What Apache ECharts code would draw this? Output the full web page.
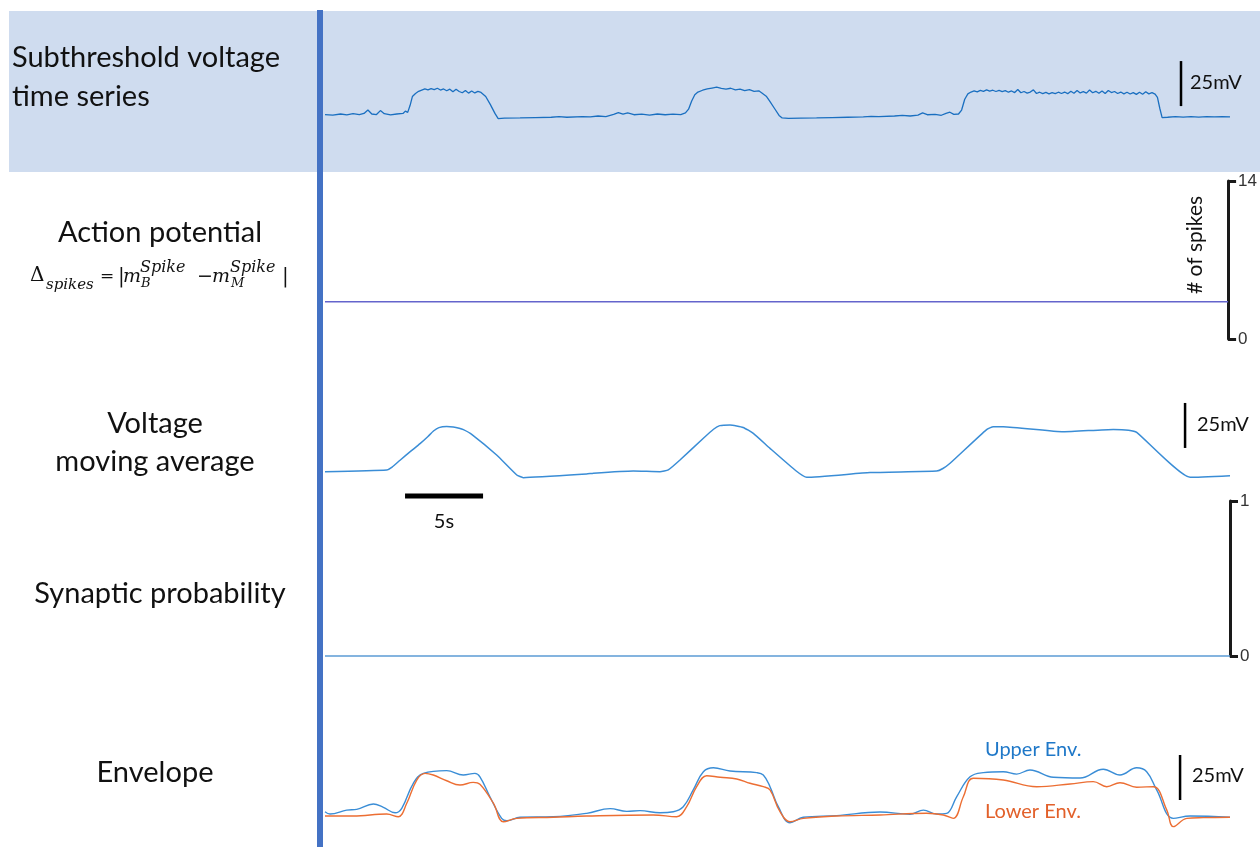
<!DOCTYPE html>
<html>
<head>
<meta charset="utf-8">
<script src="https://cdn.jsdelivr.net/npm/echarts@6/dist/echarts.min.js"></script>
<style>
  html, body { margin: 0; padding: 0; background: #fff; }
  #main { width: 1260px; height: 847px; }
</style>
</head>
<body>
<div id="main"></div>
<script>
// time in seconds, voltage in mV
var rawTime = [0,0.5,1.0,1.4,1.8,2.2,2.5,2.75,3.0,3.3,3.55,3.8,4.2,4.6,5.0,5.15,5.3,5.45,5.6,5.8,
  6.0,6.2,6.4,6.6,6.8,7.0,7.2,7.4,7.6,7.8,8.0,8.2,8.4,8.6,8.8,9.0,9.2,9.4,9.6,9.8,10.0,10.1,10.3,10.6,10.9,11.1,
  11.5,12.5,13.5,14.5,15.0,15.5,16.5,17.0,17.5,18.0,18.5,18.8,19.1,19.4,19.8,20.3,20.8,21.3,21.8,22.3,22.8,23.1,
  23.3,23.5,23.7,23.9,24.2,24.5,24.8,25.1,25.4,25.7,26.0,26.3,26.6,26.9,27.2,27.5,27.8,28.0,28.3,28.5,28.8,29.1,29.3,
  29.7,30.5,31.5,32.5,33.5,34.5,35.0,35.5,36.5,37.0,37.5,38.0,38.3,38.6,39.1,39.5,39.8,40.05,40.3,40.6,40.8,
  41.0,41.2,41.4,41.6,41.8,42.0,42.2,42.4,42.6,42.8,43.0,43.2,43.4,43.6,43.8,44.0,44.2,44.4,44.6,44.8,45.0,45.2,
  45.4,45.6,45.8,46.0,46.2,46.4,46.6,46.8,47.0,47.2,47.4,47.6,47.8,48.0,48.2,48.4,48.6,48.8,49.0,49.2,49.4,49.6,
  49.8,50.0,50.2,50.4,50.6,50.8,51.0,51.2,51.4,51.6,51.8,52.0,52.2,52.4,52.6,52.8,53.0,53.2,53.35,53.5,53.65,
  54.0,54.5,55.0,55.5,56.0,56.5,57.0,57.5,58.0];
var rawMv = [-67.5,-67.8,-67.2,-67.7,-67.0,-67.6,-66.9,-65.0,-67.2,-67.5,-65.3,-67.0,-67.7,-67.2,-66.9,-65.6,-66.3,-62.5,-57.5,-55.8,
  -54.6,-53.9,-53.2,-53.8,-53.1,-53.7,-52.9,-53.9,-53.3,-54.3,-53.4,-54.9,-53.5,-54.7,-55.4,-54.1,-55.6,-54.4,-55.5,-54.6,-55.2,-54.2,-57.5,-62.0,-67.0,-69.8,
  -69.5,-69.4,-69.2,-69.0,-68.7,-69.0,-68.6,-68.8,-68.3,-68.6,-67.4,-66.4,-67.3,-66.6,-67.6,-67.3,-67.8,-67.2,-67.6,-67.3,-67.5,-66.6,
  -64.5,-60.0,-56.5,-55.0,-54.0,-53.3,-52.8,-52.3,-53.0,-53.4,-52.9,-53.8,-53.4,-54.2,-53.7,-54.6,-54.3,-55.5,-57.5,-60.0,-64.0,-68.0,-69.4,
  -69.6,-69.5,-69.4,-69.2,-69.0,-68.8,-68.5,-68.7,-68.3,-68.0,-68.3,-67.8,-66.6,-67.6,-67.4,-67.9,-66.8,-66.2,-67.4,-67.2,-65.0,
  -59.0,-56.0,-55.0,-54.4,-54.9,-54.1,-54.6,-53.8,-54.5,-54.0,-54.7,-54.1,-54.8,-54.2,-55.1,-54.4,-55.3,-53.6,-55.4,-54.7,-55.6,-55.0,
  -53.8,-55.8,-55.1,-55.9,-55.2,-56.0,-55.3,-55.9,-55.1,-55.8,-55.0,-55.9,-54.6,-55.7,-54.2,-55.5,-54.8,-55.6,-53.9,-55.4,-54.6,-55.7,
  -54.4,-55.8,-54.1,-55.3,-54.7,-55.8,-55.0,-56.0,-55.1,-56.1,-55.3,-56.3,-55.1,-56.2,-54.8,-56.0,-55.3,-56.2,-58.0,-64.0,-69.2,
  -69.0,-68.7,-68.9,-68.6,-68.9,-68.6,-68.8,-68.6,-68.8];

var spikeTime = [0, 58];
var spikeCount = [3.3, 3.3];

var avgTime = [0,3.95,4.3,4.81,5.5,6.09,6.6,6.95,7.3,7.8,8.22,8.6,8.87,9.40,11.0,12.29,12.71,16.77,17.2,19.76,
  21.47,22.0,22.75,24.25,24.9,25.3,25.96,26.8,27.45,28.52,30.2,30.87,34.93,39.2,39.6,40.06,42.4,42.83,43.47,
  47.32,50.52,51.5,52.02,55.44,58.0];
var avgMv = [-65.4,-64.4,-62.8,-59.0,-54.0,-49.8,-45.8,-42.8,-40.9,-40.3,-40.5,-41.2,-42.0,-44.6,-56.1,-67.2,-68.7,-66.7,-66.2,-65.0,
  -65.4,-64.4,-58.9,-46.8,-41.8,-39.8,-39.4,-40.8,-44.1,-52.4,-65.0,-68.5,-65.9,-65.0,-63.6,-60.7,-42.0,-40.4,-40.4,
  -43.2,-41.9,-42.3,-43.5,-68.5,-67.6];

var probTime = [0, 58];
var probValue = [0, 0];

var upperTime = [0,0.32,1.39,2.03,3.10,3.74,4.49,4.92,5.66,6.30,7.80,8.86,9.61,9.93,10.57,11.32,11.65,12.50,14.63,16.77,
  18.27,19.34,20.19,21.47,22.32,22.96,23.60,24.25,24.89,25.96,27.67,28.09,28.52,29.05,29.80,30.65,32.79,35.57,37.49,
  38.35,39.2,39.84,40.48,41.34,42.19,43.47,44.33,45.18,46.68,48.39,49.88,50.95,52.02,52.66,53.30,54.37,55.44,58.0];
var upperMv = [-61.5,-62.8,-60.6,-60.2,-57.2,-59.1,-62.1,-59.6,-45.7,-40.2,-38.7,-41.1,-40.2,-42.1,-53.2,-65.2,-66.5,-64.6,-64.3,-62.4,
  -59.8,-61.3,-60.9,-62.1,-61.5,-58.7,-49.4,-39.3,-37.1,-38.9,-39.8,-41.1,-47.6,-58.7,-67.6,-64.6,-63.7,-61.7,-62.9,
  -60.6,-62.8,-62.4,-53.2,-42.1,-39.8,-39.3,-40.6,-38.3,-42.4,-42.8,-37.9,-41.1,-37.1,-39.3,-49.4,-65.2,-63.9,-64.6];

var lowerTime = [0,1.81,3.95,4.70,5.24,5.88,6.41,6.94,7.80,8.65,9.50,9.93,10.79,11.43,12.29,14.63,16.77,21.04,22.54,23.18,
  23.82,24.46,25.32,26.39,27.24,28.09,28.52,29.16,29.80,30.65,32.79,35.57,38.56,39.63,40.27,40.91,41.55,43.47,45.61,
  47.75,49.24,50.10,50.95,52.02,53.09,53.95,54.37,55.23,56.29,58.0];
var lowerMv = [-63.9,-63.9,-62.8,-64.3,-56.8,-43.9,-40.2,-41.1,-44.3,-46.7,-45.2,-46.3,-56.8,-67.1,-65.2,-64.6,-63.9,-63.3,-64.3,-58.7,
  -47.6,-41.5,-42.4,-43.3,-45.7,-47.6,-49.4,-61.5,-67.1,-65.2,-63.9,-63.3,-62.4,-63.3,-65.2,-53.2,-42.9,-43.9,-47.6,
  -46.1,-44.8,-47.6,-45.4,-47.9,-47.6,-60.6,-69.8,-65.2,-64.8,-64.6];

// scale bars: 25 mV vertical bars and a 5 s horizontal bar
var barRaw = [[54.86, -37.8], [54.86, -62.8]];
var barAvg = [[55.12, -27.2], [55.12, -52.2]];
var barTime = [[5.13, -78.9], [10.13, -78.9]];
var barEnv = [[54.8, -30.0], [54.8, -55.0]];

function zip(t, v) {
  return t.map(function (x, i) { return [x, v[i]]; });
}

var myChart = echarts.init(document.getElementById('main'));

var tops = [11, 181, 390, 501, 737];
var heights = [161, 158, 108, 155, 108];
var grids = tops.map(function (t, i) {
  return { left: 325, right: 30, top: t, height: heights[i] };
});
var xAxes = tops.map(function (t, i) {
  return { gridIndex: i, type: 'value', min: 0, max: 58, show: false };
});

var bracketAxis = function (idx, max) {
  return {
    gridIndex: idx, type: 'value', position: 'right', min: 0, max: max, interval: max,
    axisLine: { show: true, onZero: false, lineStyle: { color: '#1a1a1a', width: 3 } },
    axisTick: { show: true, inside: false, length: 8, lineStyle: { color: '#1a1a1a', width: 3 } },
    axisLabel: { show: true, margin: 10, fontSize: 17, color: '#333', fontFamily: 'Liberation Sans' },
    splitLine: { show: false }
  };
};

var yAxes = [
  { gridIndex: 0, type: 'value', min: -99.4, max: -10, show: false },
  bracketAxis(1, 14),
  { gridIndex: 2, type: 'value', min: -80, max: -20, show: false },
  bracketAxis(3, 1),
  { gridIndex: 4, type: 'value', min: -80, max: -20, show: false }
];

var trace = function (name, xi, data, color, width, smooth) {
  return {
    name: name, type: 'line', xAxisIndex: xi, yAxisIndex: xi, data: data,
    showSymbol: false, smooth: smooth || false, clip: false,
    lineStyle: { color: color, width: width }
  };
};

var bar = function (xi, data, width) {
  return {
    type: 'line', xAxisIndex: xi, yAxisIndex: xi, data: data, showSymbol: false, clip: false,
    lineStyle: { color: '#000', width: width }, silent: true
  };
};

var txt = function (x, y, s, size, opt) {
  opt = opt || {};
  return {
    type: 'text', x: x, y: y, z: 10,
    style: {
      text: s, fill: opt.color || '#111', fontSize: size,
      fontFamily: opt.family || 'Lato', fontStyle: opt.italic ? 'italic' : 'normal',
      align: opt.align || 'left', verticalAlign: 'middle'
    }
  };
};
var serif = 'DejaVu Serif';

var option = {
  animation: false,
  grid: grids,
  xAxis: xAxes,
  yAxis: yAxes,
  graphic: [
    { type: 'rect', shape: { x: 9, y: 11, width: 1251, height: 161 }, style: { fill: '#cfdcef' }, z: -10 },
    { type: 'rect', shape: { x: 317, y: 10, width: 6, height: 837 }, style: { fill: '#4472c4' }, z: 5 },
    txt(12, 58, 'Subthreshold voltage', 29),
    txt(12, 97, 'time series', 29),
    txt(160, 233, 'Action potential', 29, { align: 'center' }),
    txt(155, 424, 'Voltage', 29, { align: 'center' }),
    txt(155, 462, 'moving average', 29, { align: 'center' }),
    txt(160, 594, 'Synaptic probability', 29, { align: 'center' }),
    txt(155, 773, 'Envelope', 29, { align: 'center' }),
    // formula
    txt(30, 276, '\u0394', 20, { family: serif }),
    txt(46, 285, 'spikes', 15, { family: serif, italic: true }),
    txt(100, 277, '=', 17, { family: serif }),
    txt(118, 277, '|', 20, { family: serif }),
    txt(123, 277, 'm', 19, { family: serif, italic: true }),
    txt(140, 268, 'Spike', 16, { family: serif, italic: true }),
    txt(141, 284, 'B', 13, { family: serif, italic: true }),
    txt(197, 277, '\u2212', 19, { family: serif }),
    txt(212, 277, 'm', 19, { family: serif, italic: true }),
    txt(230, 268, 'Spike', 16, { family: serif, italic: true }),
    txt(231, 284, 'M', 13, { family: serif, italic: true }),
    txt(282, 277, '|', 20, { family: serif }),
    // annotations
    txt(1190, 83, '25mV', 20),
    txt(1197, 425, '25mV', 20),
    txt(1192, 776, '25mV', 20),
    txt(444, 522, '5s', 20, { align: 'center' }),
    txt(985, 750, 'Upper Env.', 20, { color: '#1f78c8' }),
    txt(985, 812, 'Lower Env.', 20, { color: '#e2602a' }),
    {
      type: 'text', x: 1195, y: 245, rotation: Math.PI / 2, z: 10,
      style: { text: '# of spikes', fill: '#111', fontSize: 21, fontFamily: 'Lato', align: 'center', verticalAlign: 'middle' }
    }
  ],
  series: [
    trace('raw', 0, zip(rawTime, rawMv), '#1a6fc0', 1.3),
    bar(0, barRaw, 2.5),
    trace('spikes', 1, zip(spikeTime, spikeCount), '#6464cc', 1.5),
    trace('avg', 2, zip(avgTime, avgMv), '#3a8dd6', 1.5, 0.15),
    bar(2, barAvg, 2.5),
    bar(2, barTime, 5),
    trace('prob', 3, zip(probTime, probValue), '#5b9bd5', 1.5),
    trace('Upper Env.', 4, zip(upperTime, upperMv), '#3a8dd6', 1.4, 0.4),
    trace('Lower Env.', 4, zip(lowerTime, lowerMv), '#ec6e33', 1.4, 0.4),
    bar(4, barEnv, 2.5)
  ]
};

myChart.setOption(option);
</script>
</body>
</html>
